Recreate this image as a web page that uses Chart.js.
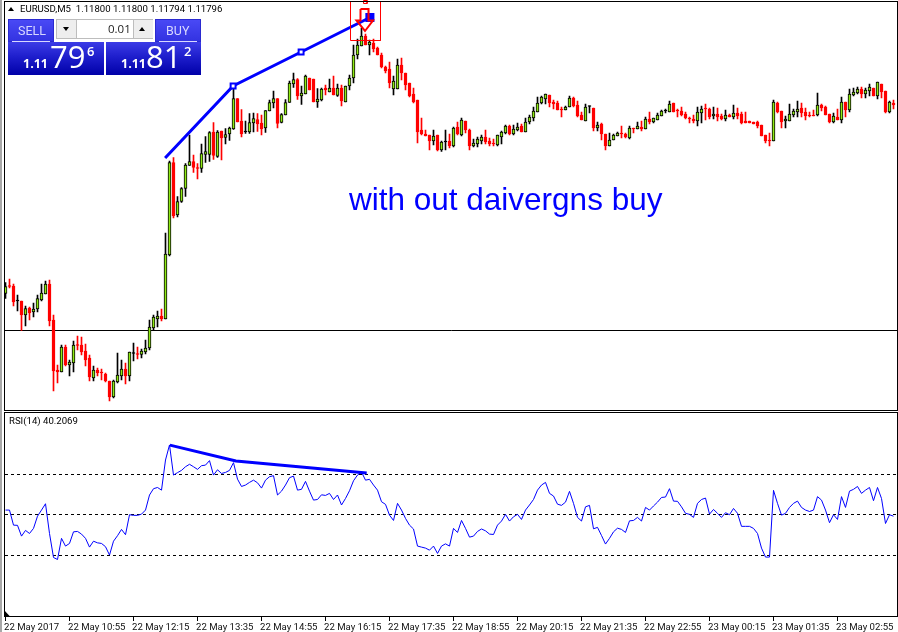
<!DOCTYPE html>
<html><head><meta charset="utf-8">
<style>
html,body{margin:0;padding:0;background:#fff;width:898px;height:632px;overflow:hidden}
#wrap{position:relative;width:898px;height:632px}
canvas{position:absolute;left:0;top:0}
.t{position:absolute;white-space:nowrap;font-family:Roboto,"Liberation Sans",sans-serif;color:#000}
.box{position:absolute}
.sell{background:linear-gradient(#4a4af6,#3232e0);}
.price{background:linear-gradient(#3c3ce6 0%,#1e1ecc 45%,#0000a8 100%);}
.w{color:#fff;font-family:"Open Sans","Liberation Sans",sans-serif}
</style></head><body>
<div id="wrap">
<canvas id="c" width="898" height="632"></canvas>
<div class="box" style="left:0;top:0;width:2px;height:632px;background:#a8a8a8"></div>
<div class="t" style="left:20px;top:3px;font-size:9.6px;line-height:12px">EURUSD,M5&nbsp; 1.11800 1.11800 1.11794 1.11796</div>
<div class="box" style="left:8px;top:7px;width:0;height:0;border-left:3.5px solid transparent;border-right:3.5px solid transparent;border-bottom:4px solid #000"></div>

<div class="box sell" style="left:8px;top:19px;width:46px;height:23px;box-shadow:inset 0 0 0 1px #2a2ad0"></div>
<div class="t w" style="left:18px;top:23px;font-size:12.5px;line-height:15px;color:#d8d8ff;font-family:Roboto,sans-serif">SELL</div>
<div class="box" style="left:12px;top:41px;width:38px;height:1px;background:#d8d8ff"></div>
<div class="box price" style="left:8px;top:42px;width:96px;height:33px"></div>
<div class="t w" style="left:23px;top:56px;font-size:12.5px;line-height:16px;font-weight:700">1.11</div>
<div class="t w" style="left:50px;top:37px;font-size:31px;line-height:38px;font-weight:400">79</div>
<div class="t w" style="left:87px;top:43px;font-size:13px;line-height:16px;font-weight:600">6</div>

<div class="box" style="left:56px;top:19px;width:97px;height:20px;background:#fff;box-shadow:inset 0 0 0 1px #bdbdbd"></div>
<div class="box" style="left:57px;top:20px;width:19px;height:18px;background:#eeeeee;border-right:1px solid #bdbdbd"></div>
<div class="box" style="left:133px;top:20px;width:19px;height:18px;background:#eeeeee;border-left:1px solid #bdbdbd"></div>
<div class="box" style="left:63px;top:27px;width:0;height:0;border-left:3.5px solid transparent;border-right:3.5px solid transparent;border-top:4px solid #000"></div>
<div class="box" style="left:139px;top:27px;width:0;height:0;border-left:3.5px solid transparent;border-right:3.5px solid transparent;border-bottom:4px solid #000"></div>
<div class="t" style="left:108px;top:22px;font-size:11.5px;line-height:14px;color:#222;font-family:'Open Sans',sans-serif">0.01</div>

<div class="box sell" style="left:155px;top:19px;width:46px;height:23px;box-shadow:inset 0 0 0 1px #2a2ad0"></div>
<div class="t w" style="left:166px;top:23px;font-size:12.5px;line-height:15px;color:#d8d8ff;font-family:Roboto,sans-serif">BUY</div>
<div class="box" style="left:159px;top:41px;width:38px;height:1px;background:#d8d8ff"></div>
<div class="box price" style="left:106px;top:42px;width:95px;height:33px"></div>
<div class="t w" style="left:121px;top:56px;font-size:12.5px;line-height:16px;font-weight:700">1.11</div>
<div class="t w" style="left:146px;top:37px;font-size:31px;line-height:38px;font-weight:400">81</div>
<div class="t w" style="left:184px;top:43px;font-size:13px;line-height:16px;font-weight:600">2</div>

<div class="t" style="left:349px;top:181px;font-size:31.5px;line-height:36px;color:#0000ff;font-family:'Liberation Sans',sans-serif">with out daivergns buy</div>
<div class="t" style="left:9px;top:415px;font-size:9.6px;line-height:12px">RSI(14) 40.2069</div>
</div>
<script src="https://cdn.jsdelivr.net/npm/chart.js@4/dist/chart.umd.min.js"></script>
<script>
// Prices are in points above 1.11000 (1 point = 0.00001)
const opens=[423,439,438,408,408,380,394,386,392,410,422,442,370,270,266,316,280,284,320,320,308,294,254,270,266,262,248,216,246,258,272,258,303,303,301,306,314,354,372,378,372,
500,685,580,607,633,679,687,675,673,701,701,746,697,748,735,742,752,813,768,746,746,764,771,764,754,788,804,813,765,780,805,842,851,818,822,854,852,806,810,834,826,834,819,834,806,838,854,900,918,938,920,924,914,900,876,872,832,832,880,864,844,822,810,750,742,740,728,740,
710,726,728,718,756,740,768,750,718,722,728,736,728,724,720,736,744,758,742,750,758,746,766,774,786,804,812,820,806,804,792,790,796,814,800,780,768,797,794,754,762,742,718,730,738,744,742,734,754,752,756,752,772,766,770,778,788,786,804,790,788,782,774,772,768,784,794,792,778,782,778,772,780,776,784,782,768,768,766,766,760,740,730,728,804,788,768,768,780,786,794,786,780,780,780,800,796,782,766,776,770,806,790,820,824,832,822,828,834,818,842,828,786,804];
const closes=[437,437,406,408,380,393,384,392,413,424,442,368,268,266,316,280,286,320,319,306,290,256,270,264,264,248,216,248,260,272,258,306,303,301,308,314,356,376,378,372,502,
685,578,607,633,680,687,675,673,703,707,745,699,746,734,741,754,813,766,742,746,765,773,762,752,789,805,813,763,781,805,844,851,818,824,858,830,806,812,832,830,834,820,834,808,838,854,900,920,938,920,926,912,900,876,868,844,848,880,864,840,818,806,746,742,738,728,738,710,
726,726,718,754,742,770,750,718,724,732,736,726,722,722,740,746,758,742,752,756,746,766,776,788,804,816,822,804,802,790,790,796,814,798,778,770,796,797,754,760,742,718,730,740,744,742,736,754,752,758,752,772,766,774,780,788,788,802,786,788,780,774,772,768,786,792,792,776,782,776,772,780,776,784,778,764,764,764,762,758,738,728,728,806,786,766,772,782,788,792,784,778,778,778,800,794,780,766,778,770,806,790,822,826,832,822,830,836,818,846,826,786,806,800];
const highs=[445,452,442,420,408,398,396,404,420,442,448,450,380,280,320,320,290,328,338,336,322,300,278,274,272,264,248,250,304,290,284,306,324,316,312,330,370,380,388,392,544,
688,695,617,635,683,740,700,683,722,737,747,765,749,748,753,756,833,813,791,768,783,784,783,780,789,810,828,813,783,811,848,864,853,838,860,854,852,833,834,840,852,858,842,840,838,860,920,932,954,942,930,932,916,904,878,886,858,892,894,864,844,834,810,774,750,740,750,740,
728,750,742,756,766,774,768,752,732,736,740,750,734,732,740,748,760,760,760,764,762,774,780,796,816,818,822,820,810,808,796,798,818,816,808,786,802,798,794,766,764,742,744,742,746,758,744,758,754,766,768,776,786,774,784,790,792,808,804,792,796,786,776,780,796,798,802,794,796,794,782,790,782,800,794,786,786,768,766,768,760,740,744,810,806,788,778,802,792,808,804,794,786,790,824,802,798,782,784,792,816,806,832,834,836,836,834,842,834,846,842,828,808,810];
const lows=[413,434,398,388,349,358,370,376,386,408,422,358,228,244,266,278,258,266,310,300,278,248,248,258,250,246,208,214,244,250,242,248,288,292,294,302,310,350,356,368,372,
498,574,576,605,617,679,665,652,665,685,687,691,695,690,722,729,751,766,736,743,743,746,747,740,745,788,794,754,764,780,805,835,811,801,822,830,806,795,808,820,826,820,817,798,806,830,844,892,918,920,900,906,900,874,864,834,820,832,850,830,816,804,724,740,738,710,720,708,
707,710,714,716,740,738,744,710,716,716,722,722,718,718,718,722,742,740,740,748,746,746,762,768,786,802,802,796,792,790,776,790,796,796,776,770,768,784,748,748,730,710,718,730,738,734,734,732,744,752,748,752,762,764,770,778,784,786,786,776,778,772,764,764,758,764,770,772,772,768,770,768,776,772,772,762,764,764,762,754,738,724,718,728,784,754,754,768,776,776,776,770,776,778,778,788,780,764,764,770,764,776,786,818,822,814,814,818,818,812,814,784,784,792];
const rsiValues=[52.3,52.3,44.9,44.8,39.5,42.3,40.8,43.3,49.3,52.3,55.4,40.8,29.0,28.0,38.4,34.6,35.9,41.6,41.8,40.5,38.4,34.1,37.0,36.2,35.9,34.3,30.2,37.0,39.7,42.8,40.2,50.0,49.7,49.7,50.3,52.3,59.7,62.8,63.4,62.1,76.9,84.3,69.5,70.7,71.8,73.6,74.8,73.6,72.3,74.1,74.4,76.6,69.5,72.1,70.3,70.8,71.8,75.6,67.5,63.9,64.6,65.9,67.0,65.7,63.1,67.0,68.7,69.2,59.7,61.6,64.6,68.2,69.0,62.1,
62.5,66.4,61.6,57.2,57.5,59.8,59.5,60.5,57.5,59.7,54.8,58.0,61.8,66.7,69.5,71.0,67.0,67.4,64.6,62.1,56.4,55.1,49.8,47.2,55.6,52.3,48.2,44.9,43.0,34.6,34.1,33.6,32.6,34.6,31.0,34.6,35.7,34.6,43.3,41.3,47.2,43.3,39.0,39.5,41.8,43.0,42.1,40.5,40.3,44.9,46.9,50.2,46.9,49.0,50.2,47.7,52.3,54.8,57.5,62.1,64.6,65.9,60.5,59.2,55.2,54.6,56.2,61.5,55.6,48.7,46.9,53.9,54.6,43.1,43.8,
39.8,35.6,38.4,41.6,43.4,42.8,41.3,47.0,47.2,48.7,46.9,53.6,52.3,54.3,56.2,58.5,58.7,62.8,56.7,56.6,53.9,50.7,50.2,48.7,55.6,57.5,58.2,50.3,52.6,50.7,48.7,51.0,50.0,53.1,50.7,44.3,44.3,44.3,43.3,40.8,33.6,29.2,29.2,62.0,55.6,49.8,50.7,53.6,55.6,56.7,53.6,52.3,51.6,52.3,58.9,57.2,52.3,46.1,50.0,47.7,58.9,53.6,61.6,62.5,63.9,60.5,62.1,63.4,56.9,63.4,58.0,45.7,50.0,49.3];
const tickIndexes=[0,16,32,48,64,80,96,112,128,144,160,176,192,208];
const tickLabels=["22 May 2017","22 May 10:55","22 May 12:15","22 May 13:35","22 May 14:55","22 May 16:15","22 May 17:35","22 May 18:55","22 May 20:15","22 May 21:35","22 May 22:55","23 May 00:15","23 May 01:35","23 May 02:55"];
const rsiLevels=[30,50,70];
const supportLevel=349;
const priceTrendX=[39.9,56.9,73.9,91.1], priceTrendY=[694,838,906,975];
const rsiTrendX=[41.1,57.6,90.3], rsiTrendY=[84.2,76.4,70.5];
const boxX=[86.25,93.75,93.75,86.25,86.25], boxY=[1007,1007,929,929,1007];
const arrowX=[88.75,90.75,90.75,91.875,89.875,87.75,88.75,88.75], arrowY=[992,992,969,969,948,969,969,992];
const tagX=[89.5,90.4,90.4,89.5,89.5], tagY=[1009,1009,1003,1003,1009];

const UP='#8eea14', DN='#ff0000', BK='#000000', BLUE='#0000ff';
const pts=(xs,ys)=>xs.map((x,i)=>({x,y:ys[i]}));
const idx=opens.map((_,i)=>i);
const colr=(i)=>closes[i]>opens[i]?UP:closes[i]<opens[i]?DN:BK;
const edge=(i)=>closes[i]<opens[i]?DN:BK;

const frame={id:'frame',beforeDraw(c){const g=c.ctx;g.save();g.fillStyle='#fff';g.fillRect(0,0,898,632);g.restore();},
 afterDatasetsDraw(c){const g=c.ctx;g.save();g.strokeStyle='#000';g.lineWidth=1;
  g.strokeRect(4.5,1.5,893,409);
  g.strokeRect(4.5,412.5,893,204);
  g.fillStyle='#000';g.beginPath();g.moveTo(4,610);g.lineTo(10,616.5);g.lineTo(4,616.5);g.closePath();g.fill();g.restore();}};

new Chart(document.getElementById('c'),{
 type:'bar',plugins:[frame],
 data:{datasets:[
  {type:'line',label:'Box',data:pts(boxX,boxY),yAxisID:'yPrice',borderColor:'#ff0000',borderWidth:1,pointRadius:0,clip:false,order:0,tension:0},
  {type:'line',label:'Arrow',data:pts(arrowX,arrowY),yAxisID:'yPrice',borderColor:'#ff0000',borderWidth:2,pointRadius:0,clip:false,order:0,tension:0},
  {type:'line',label:'Tag',data:pts(tagX,tagY),yAxisID:'yPrice',borderColor:'#ff0000',borderWidth:1,pointRadius:0,clip:false,order:0,tension:0},
  {type:'line',label:'Price trend',data:pts(priceTrendX,priceTrendY),yAxisID:'yPrice',borderColor:BLUE,borderWidth:3,tension:0,order:1,pointStyle:'rect',pointRadius:[0,3.5,3.5,5],pointBorderWidth:2,pointBorderColor:BLUE,pointBackgroundColor:['#fff','#fff','#fff',BLUE]},
  {type:'line',label:'RSI trend',data:pts(rsiTrendX,rsiTrendY),yAxisID:'yRsi',borderColor:BLUE,borderWidth:3,tension:0,order:1,pointRadius:0},
  {type:'line',label:'RSI(14)',data:pts(idx,rsiValues),yAxisID:'yRsi',borderColor:BLUE,borderWidth:1,tension:0,order:2,pointRadius:0},
  {type:'line',label:'Level',data:pts([-0.125,223],[supportLevel,supportLevel]),yAxisID:'yPrice',borderColor:BK,borderWidth:1,pointRadius:0,order:5},
  {type:'bar',label:'Body',data:idx.map(i=>({x:i,y:[opens[i],closes[i]]})),yAxisID:'yPrice',barThickness:3,minBarLength:1,grouped:false,
   backgroundColor:idx.map(colr),borderColor:idx.map(edge),borderWidth:1,borderSkipped:false,order:3},
  {type:'bar',label:'Wick',data:idx.map(i=>({x:i,y:[lows[i],highs[i]]})),yAxisID:'yPrice',barThickness:1,grouped:false,
   backgroundColor:idx.map(edge),borderWidth:0,order:4}
 ]},
 options:{responsive:false,animation:false,devicePixelRatio:1,
  layout:{autoPadding:false,padding:{left:5,right:0.5,top:4,bottom:0}},
  plugins:{legend:{display:false},tooltip:{enabled:false},title:{display:false}},
  scales:{
   x:{type:'linear',offset:false,min:-0.125,max:223,
     afterBuildTicks(s){s.ticks=tickIndexes.map(v=>({value:v}));},
     afterFit(s){s.height=15;s.paddingLeft=0;s.paddingRight=0;},
     grid:{drawOnChartArea:false,offset:false,color:'#000',tickLength:4,tickWidth:1},border:{display:false},
     ticks:{autoSkip:false,maxRotation:0,minRotation:0,padding:1,labelOffset:-1.5,align:'start',color:'#111',
       font:{family:'Roboto, "Liberation Sans", sans-serif',size:9.6},
       callback(v){const k=tickIndexes.indexOf(v);return k>=0?tickLabels[k]:'';}}},
   yRsi:{type:'linear',position:'left',stack:'panes',stackWeight:205.5,min:-0.25,max:100.74,
     afterBuildTicks(s){s.ticks=rsiLevels.map(v=>({value:v}));},
     afterFit(s){s.width=0;s.paddingTop=0;s.paddingBottom=0;},
     grid:{color:'#000',lineWidth:1,drawTicks:false},border:{display:false,dash:[3,3]},ticks:{display:false}},
   yPrice:{type:'linear',position:'left',stack:'panes',stackWeight:407.5,min:187,max:1002,
     afterFit(s){s.width=0;s.paddingTop=0;s.paddingBottom=0;},
     grid:{display:false},border:{display:false},ticks:{display:false}}
  }}
});
</script>
</body></html>
